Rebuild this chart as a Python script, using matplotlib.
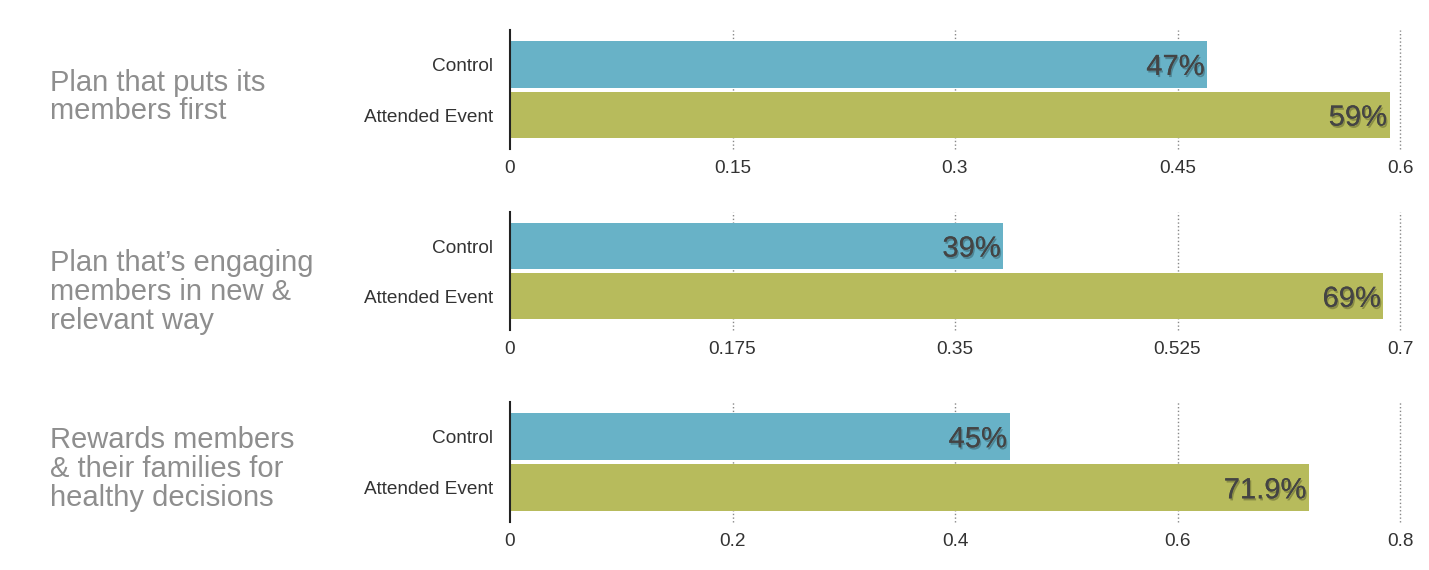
import matplotlib.pyplot as plt
import matplotlib.patheffects as pe

plt.rcParams['font.family'] = ['Liberation Sans', 'DejaVu Sans']

# data
titles = ['Plan that puts its\nmembers first',
          'Plan that\u2019s engaging\nmembers in new &\nrelevant way',
          'Rewards members\n& their families for\nhealthy decisions']
groups = ['Control', 'Attended Event']
control = [0.47, 0.388, 0.449]
attended = [0.593, 0.687, 0.718]
value_labels = [['47%', '59%'], ['39%', '69%'], ['45%', '71.9%']]
xmaxes = [0.6, 0.7, 0.8]
xticks = [[0, 0.15, 0.3, 0.45, 0.6],
          [0, 0.175, 0.35, 0.525, 0.7],
          [0, 0.2, 0.4, 0.6, 0.8]]
tick_labels = [['0', '0.15', '0.3', '0.45', '0.6'],
               ['0', '0.175', '0.35', '0.525', '0.7'],
               ['0', '0.2', '0.4', '0.6', '0.8']]

W, H = 1429, 570
blue = '#68b2c7'
olive = '#b7bb5c'

fig = plt.figure(figsize=(W / 100, H / 100), dpi=100)

# axes top / bottom in pixels
tops = [30, 212, 402]
bottoms = [149, 330, 522]
title_y = [97, 292, 469]

for i in range(3):
    ax = fig.add_axes([510 / W, 1 - bottoms[i] / H, 890 / W, (bottoms[i] - tops[i]) / H])
    vals = [control[i], attended[i]]
    ax.barh([0, 1], vals, height=0.92, color=[blue, olive], zorder=2)
    ax.set_xlim(0, xmaxes[i])
    ax.set_ylim(1.67, -0.68)
    ax.set_yticks([0, 1])
    ax.set_yticklabels(groups, fontsize=13.7, color='#333333')
    ax.set_xticks(xticks[i])
    ax.set_xticklabels(tick_labels[i], fontsize=13.7, color='#333333')
    ax.tick_params(axis='both', length=0)
    ax.tick_params(axis='x', pad=8)
    ax.tick_params(axis='y', pad=12)
    for s in ['top', 'right', 'bottom']:
        ax.spines[s].set_visible(False)
    ax.spines['left'].set_color('#222222')
    ax.spines['left'].set_linewidth(1.5)
    ax.spines['left'].set_zorder(3)
    for t in xticks[i][1:]:
        ax.axvline(t, color='#888888', lw=1, ls=':', zorder=1, clip_on=False)
    for j in range(2):
        ax.text(vals[j] - xmaxes[i] * 0.003, j + 0.05, value_labels[i][j],
                ha='right', va='center', fontsize=21, color='#444444', zorder=4,
                path_effects=[pe.withSimplePatchShadow(offset=(1, -1.5), shadow_rgbFace='black', alpha=0.25),
                              pe.Normal()])
    fig.text(50 / W, 1 - title_y[i] / H, titles[i], ha='left', va='center',
             fontsize=21, color='#8e8e8e', linespacing=1.03)

fig.savefig('out.png', dpi=100)
